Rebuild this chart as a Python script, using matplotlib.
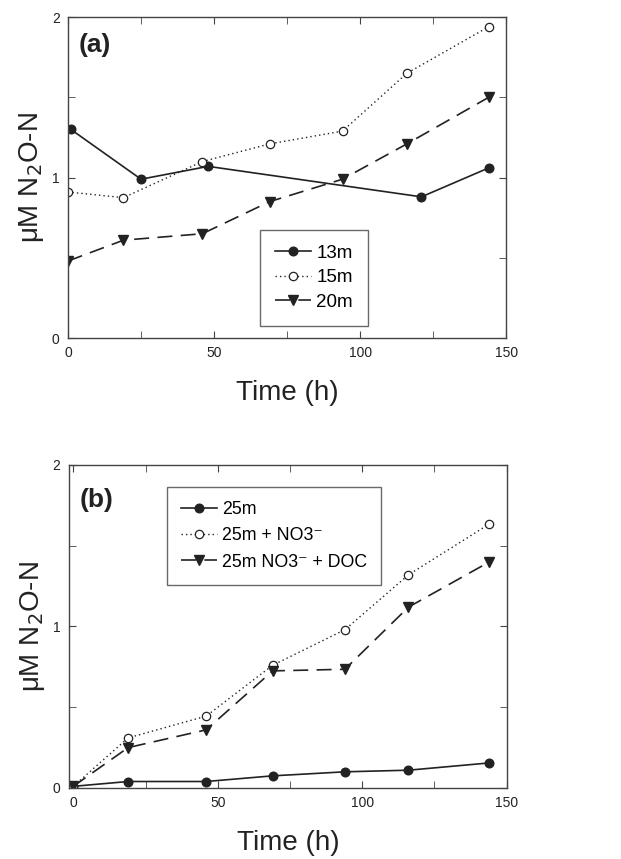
import matplotlib
matplotlib.use("Agg")
import matplotlib.pyplot as plt
from matplotlib.ticker import MultipleLocator, FixedLocator

plt.rcParams['font.family'] = ['Liberation Sans', 'DejaVu Sans']

# Panel (a)
t_13m = [1, 25, 48, 121, 144]
v_13m = [1.30, 0.99, 1.07, 0.88, 1.06]
t_15m = [0, 19, 46, 69, 94, 116, 144]
v_15m = [0.91, 0.875, 1.10, 1.21, 1.29, 1.65, 1.94]
t_20m = [0, 19, 46, 69, 94, 116, 144]
v_20m = [0.48, 0.61, 0.65, 0.85, 0.99, 1.21, 1.50]

# Panel (b)
t_b = [0, 19, 46, 69, 94, 116, 144]
v_25m = [0.01, 0.04, 0.04, 0.075, 0.10, 0.11, 0.155]
v_25m_no3 = [0.01, 0.31, 0.445, 0.76, 0.98, 1.32, 1.635]
v_25m_no3_doc = [0.01, 0.25, 0.36, 0.725, 0.735, 1.12, 1.40]

labels_a = ["13m", "15m", "20m"]
labels_b = ["25m", "25m + NO3\u207b", "25m NO3\u207b + DOC"]

col = "#222222"
fig = plt.figure(figsize=(6.21, 8.59), dpi=100)

ax1 = fig.add_axes([0.1095, 0.6065, 0.7055, 0.3735])
ax2 = fig.add_axes([0.111, 0.0827, 0.705, 0.376])

dash = (0, (9, 5))
dot = (0, (1, 2.2))

ax1.plot(t_13m, v_13m, color=col, lw=1.2, marker='o', ms=6.2, mfc=col, mec=col, label=labels_a[0])
ax1.plot(t_15m, v_15m, color=col, lw=1.0, ls=dot, marker='o', ms=6, mfc='white', mec=col, mew=0.9, label=labels_a[1])
ax1.plot(t_20m, v_20m, color=col, lw=1.2, ls=dash, marker='v', ms=6.5, mfc=col, mec=col, label=labels_a[2])

ax2.plot(t_b, v_25m, color=col, lw=1.2, marker='o', ms=6.2, mfc=col, mec=col, label=labels_b[0])
ax2.plot(t_b, v_25m_no3, color=col, lw=1.0, ls=dot, marker='o', ms=6, mfc='white', mec=col, mew=0.9, label=labels_b[1])
ax2.plot(t_b, v_25m_no3_doc, color=col, lw=1.2, ls=dash, marker='v', ms=6.5, mfc=col, mec=col, label=labels_b[2])

for ax, xmin in ((ax1, 0), (ax2, -1.5)):
    ax.set_xlim(xmin, 150)
    ax.set_ylim(0, 2)
    ax.xaxis.set_major_locator(FixedLocator([0, 50, 100, 150]))
    ax.xaxis.set_minor_locator(MultipleLocator(25))
    ax.yaxis.set_major_locator(FixedLocator([0, 1, 2]))
    ax.yaxis.set_minor_locator(MultipleLocator(0.5))
    ax.tick_params(which='both', direction='in', top=True, right=True, color='#444444')
    ax.tick_params(which='major', length=5, labelsize=10, pad=6, labelcolor='#222222')
    ax.tick_params(which='minor', length=5)
    for s in ax.spines.values():
        s.set_color('#444444')
        s.set_linewidth(1.0)
    ax.set_xlabel("Time (h)", fontsize=20, color='#222222', labelpad=14)
    ax.set_ylabel("μM N$_2$O-N", fontsize=20, color='#222222', labelpad=4)

ax1.text(0.025, 0.95, "(a)", transform=ax1.transAxes, fontsize=19, fontweight='bold', color='#222222', va='top')
ax2.text(0.025, 0.93, "(b)", transform=ax2.transAxes, fontsize=19, fontweight='bold', color='#222222', va='top')

leg1 = ax1.legend(loc='upper left', bbox_to_anchor=(0.438, 0.337), fontsize=13.5, frameon=True,
                  fancybox=False, edgecolor='#444444', handlelength=1.9, borderpad=0.8,
                  labelspacing=0.38, handletextpad=0.3, borderaxespad=0)
leg1.get_frame().set_linewidth(1.0)
leg2 = ax2.legend(loc='upper left', bbox_to_anchor=(0.224, 0.932), fontsize=12.8, frameon=True,
                  fancybox=False, edgecolor='#444444', handlelength=2.0, borderpad=0.8,
                  labelspacing=0.52, handletextpad=0.3, borderaxespad=0)
leg2.get_frame().set_linewidth(1.0)

fig.savefig("out.png", dpi=100)
